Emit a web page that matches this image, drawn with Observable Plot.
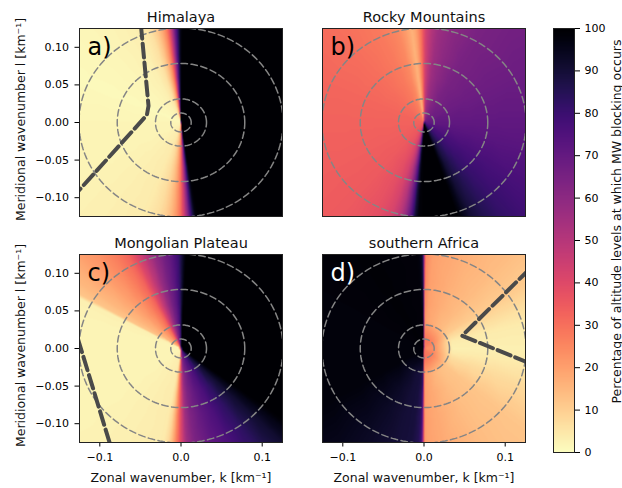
<!DOCTYPE html>
<html><head><meta charset="utf-8">
<script src="https://cdn.jsdelivr.net/npm/d3@7"></script>
<script src="https://cdn.jsdelivr.net/npm/@observablehq/plot@0.6"></script>
<style>
html,body{margin:0;padding:0;background:#fff;}
#chart{position:relative;width:622px;height:488px;overflow:hidden;font-family:"DejaVu Sans",sans-serif;}
#chart svg{position:absolute;}
</style></head><body><div id="chart"></div>
<script>
// ---- labels / ticks ----
const panelTitles = ["Himalaya", "Rocky Mountains", "Mongolian Plateau", "southern Africa"];
const panelLetters = ["a)", "b)", "c)", "d)"];
const xTicks = [-0.1, 0, 0.1];
const yTicks = [-0.1, -0.05, 0, 0.05, 0.1];
const cbarTicks = [0, 10, 20, 30, 40, 50, 60, 70, 80, 90, 100];
const xLabel = "Zonal wavenumber, k [km⁻¹]";
const yLabel = "Meridional wavenumber l [km⁻¹]";
const cbarLabel = "Percentage of altitude levels at which MW blocking occurs";
// dashed reference circles: horizontal wavelengths in km (radius = 2π/λ)
const circleWavelengths = [500, 200, 80, 50];

// ---- percentage of blocked levels by wave-vector direction (deg, from +k axis) ----
const aAngles = [-180, -160, -130, -110, -102, -98, -95, -92, -90, -88, -86, -84, -82, -80, -50, -20, 10, 40, 70, 89, 90.5, 92, 93.5, 95, 96.5, 98, 100, 103, 107, 115, 130, 155];
const aValues = [2, 2, 3, 4, 7, 11, 16, 24, 32, 45, 62, 82, 97, 100, 100, 100, 100, 100, 100, 100, 95, 82, 68, 52, 38, 28, 20, 12, 6, 3, 2, 1];

const bAngles = [-180, -150, -130, -115, -108, -103, -100, -97, -95, -93, -90, -80, -72, -69, -65, -58, -50, -35, -15, 0, 30, 60, 75, 82, 86, 89, 91, 93, 95, 97, 100, 105, 115, 130, 155];
const bValues = [33, 34, 35, 38, 42, 50, 60, 75, 90, 98, 100, 100, 100, 96, 90, 85, 81, 77, 73, 71, 68, 65, 60, 56, 50, 43, 33, 25, 19, 16, 20, 25, 28, 30, 32];

const cAngles = [-180, -150, -120, -100, -97, -95, -93, -91, -89, -87, -83, -75, -65, -55, -45, -40, -36, -10, 30, 60, 87, 89, 91, 95, 100, 105, 110, 114, 118, 125, 135, 145, 150, 152, 165];
const cValues = [2, 2, 3, 4, 8, 15, 25, 35, 45, 55, 63, 70, 76, 83, 91, 96, 100, 100, 100, 100, 100, 92, 82, 73, 66, 58, 48, 40, 32, 26, 20, 15, 12, 3, 2];

const dAngles = [-180, -150, -120, -105, -97, -93, -91.5, -90.8, -90.2, -89.5, -88, -80, -60, -40, -20, -8, 0, 15, 25, 35, 50, 70, 85, 89, 89.7, 90.3, 91, 93, 120, 150];
const dValues = [98, 98, 93, 90, 89, 85, 78, 60, 40, 22, 20, 18, 14, 12, 7, 4, 3, 4, 7, 11, 14, 17, 20, 25, 45, 75, 92, 98, 99, 98];
const dInner  = [98, 98, 97, 96, 95, 92, 85, 65, 45, 30, 29, 29, 28, 27, 25, 24, 24, 24, 25, 26, 27, 28, 29, 30, 50, 78, 93, 98, 99, 98];

// ---- thick dashed boundary lines (k, l) ----
const aLineK = [-0.0494, -0.040, -0.042, -0.130];
const aLineL = [0.130, 0.022, 0.010, -0.0955];
const cLineK = [-0.127, -0.086];
const cLineL = [0.013, -0.132];
const dLineK = [0.130, 0.047, 0.130];
const dLineL = [0.1056, 0.017, -0.0195];

// ---- build tables ----
const rayRadii = [0.003, 0.012, 0.035, 0.06, 0.09, 0.13, 0.2];
function rayTable(angles, values, inner) {
  const rows = [];
  angles.forEach((a, i) => {
    const t = a * Math.PI / 180;
    for (const r of rayRadii) {
      const v = inner && r <= 0.012 ? inner[i] : values[i];
      rows.push({k: r * Math.cos(t), l: r * Math.sin(t), v});
    }
  });
  return rows;
}
const circleRows = circleWavelengths.flatMap(w => d3.range(0, 362, 2).map(a => ({
  w, k: (2 * Math.PI / w) * Math.cos(a * Math.PI / 180), l: (2 * Math.PI / w) * Math.sin(a * Math.PI / 180)
})));
const lineRows = (K, L) => K.map((k, i) => ({k, l: L[i]}));

const colorScale = {type: "linear", scheme: "magma", reverse: true, domain: [0, 100]};
const chart = document.getElementById("chart");
const FONT = "DejaVu Sans";

const panels = [
  {angles: aAngles, values: aValues, inner: null, line: lineRows(aLineK, aLineL), showX: false, showY: true, left: 79, top: 28},
  {angles: bAngles, values: bValues, inner: null, line: null, showX: false, showY: false, left: 322, top: 28},
  {angles: cAngles, values: cValues, inner: null, line: lineRows(cLineK, cLineL), showX: true, showY: true, left: 79, top: 254},
  {angles: dAngles, values: dValues, inner: dInner, line: lineRows(dLineK, dLineL), showX: true, showY: false, left: 322, top: 254}
];

panels.forEach((p, i) => {
  const ML = 80, MT = 28, MR = 20, MB = 46, W = 203, H = 188;
  const svg = Plot.plot({
    width: ML + W + MR, height: MT + H + MB,
    marginLeft: ML, marginRight: MR, marginTop: MT, marginBottom: MB,
    style: {background: "transparent", fontFamily: FONT, fontSize: "11px", color: "black"},
    x: {domain: [-0.125, 0.125], ticks: xTicks, tickFormat: ".1f", tickSize: 4.5, tickPadding: 6, axis: p.showX ? "bottom" : null, label: null},
    y: {domain: [-0.125, 0.125], ticks: yTicks, tickFormat: ".2f", tickSize: 4.5, tickPadding: 6, axis: p.showY ? "left" : null, label: null},
    color: colorScale,
    marks: [
      Plot.raster(rayTable(p.angles, p.values, p.inner), {x: "k", y: "l", fill: "v", interpolate: "barycentric",
        x1: -0.125, x2: 0.125, y1: -0.125, y2: 0.125}),
      Plot.line(circleRows, {x: "k", y: "l", z: "w", stroke: "#858585", strokeWidth: 1.5, strokeDasharray: "6.5,3.5", clip: true}),
      p.line ? Plot.line(p.line, {x: "k", y: "l", stroke: "#4a4a4a", strokeWidth: 4, strokeDasharray: "14,5", clip: true}) : null,
      Plot.frame({stroke: "#222", strokeWidth: 1}),
      Plot.text([panelTitles[i]], {text: d => d, frameAnchor: "top", dy: -7, lineAnchor: "bottom", fontSize: 14.5, fill: "#111"}),
      Plot.text([panelLetters[i]], {text: d => d, frameAnchor: "top-left", dx: 8, dy: 26.7, textAnchor: "start", lineAnchor: "bottom", fontSize: 24, fill: i === 3 ? "white" : "black"}),
      p.showY ? Plot.text([yLabel], {text: d => d, frameAnchor: "left", rotate: -90, dx: -55, dy: -3, textAnchor: "middle", lineAnchor: "bottom", fontSize: 12.5, fill: "#111"}) : null,
      p.showX ? Plot.text([xLabel], {text: d => d, frameAnchor: "bottom", dy: 39.5, textAnchor: "middle", lineAnchor: "bottom", fontSize: 12.5, fill: "#111"}) : null
    ]
  });
  svg.style.left = (p.left - ML) + "px";
  svg.style.top = (p.top - MT) + "px";
  chart.appendChild(svg);
});

// ---- colorbar ----
const cb = Plot.plot({
  width: 76, height: 472, marginLeft: 5, marginRight: 50, marginTop: 28, marginBottom: 20,
  style: {background: "transparent", fontFamily: FONT, fontSize: "11px", color: "black"},
  x: {domain: [0, 1], axis: null},
  y: {domain: [0, 100], ticks: cbarTicks, tickFormat: d => String(d), tickSize: 5, tickPadding: 5, axis: "right", label: null},
  color: colorScale,
  marks: [
    Plot.raster({fill: (x, y) => y, x1: 0, x2: 1, y1: 0, y2: 100}),
    Plot.frame({stroke: "#222", strokeWidth: 1}),
    Plot.text([cbarLabel], {text: d => d, frameAnchor: "right", rotate: -90, dx: 46, dy: -19, textAnchor: "middle", lineAnchor: "bottom", fontSize: 12.5, fill: "#111"})
  ]
});
cb.style.left = "548px";
cb.style.top = "0px";
chart.appendChild(cb);
</script>
</body></html>
